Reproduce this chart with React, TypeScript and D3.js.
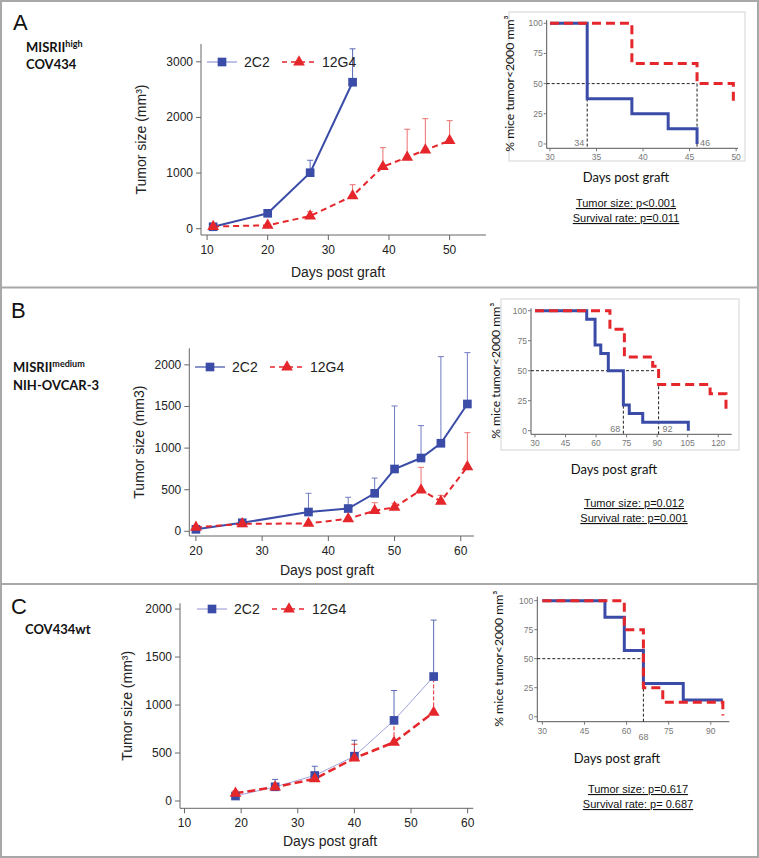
import React from "react";
import * as d3 from "d3";

// ---- tumor growth (mean, upper SD) ----
const daysA2C2 = [11, 20, 27, 34];
const sizeA2C2 = [35, 277, 1007, 2633];
const errA2C2 = [0, 25, 223, 600];
const daysA12G4 = [11, 20, 27, 34, 39, 43, 46, 50];
const sizeA12G4 = [40, 61, 228, 590, 1115, 1284, 1415, 1583];
const errA12G4 = [0, 20, 78, 201, 342, 504, 563, 359];

const daysB = [20, 27, 37, 43, 47, 50, 54, 57, 61];
const sizeB2C2 = [24, 103, 232, 274, 457, 749, 881, 1058, 1530];
const errB2C2 = [10, 33, 225, 135, 183, 757, 389, 1041, 617];
const sizeB12G4 = [48, 90, 95, 151, 248, 288, 496, 360, 776];
const errB12G4 = [0, 15, 0, 0, 96, 49, 273, 72, 409];

const daysC = [19, 26, 33, 40, 47, 54];
const sizeC2C2 = [52, 148, 266, 467, 840, 1297];
const errC2C2 = [30, 77, 96, 166, 311, 588];
const sizeC12G4 = [80, 145, 231, 446, 612, 923];
const errC12G4 = [24, 30, 62, 146, 208, 347];

// ---- survival (step start times, % mice tumor<2000) ----
const kmA2C2t = [30, 34, 38.8, 42.7, 45.8];
const kmA2C2s = [100, 37.5, 25, 12.5, 0];
const kmA12G4t = [30, 38.8, 45.8, 49.7];
const kmA12G4s = [100, 66.7, 50, 33.3];

const kmB2C2t = [30, 55.4, 59.5, 62.3, 66, 73.4, 76.3, 82.9, 105.3];
const kmB2C2s = [100, 92.9, 71.4, 64.3, 50, 21.4, 14.3, 7.1, 0];
const kmB12G4t = [30, 66.8, 73.9, 87.8, 90.7, 116, 123.8];
const kmB12G4s = [100, 84.6, 61.5, 53.8, 38.5, 30.8, 15.4];

const kmC2C2t = [30, 52.3, 59.2, 66, 80.2, 94.3];
const kmC2C2s = [100, 85.7, 57.1, 28.6, 14.3, 14.3];
const kmC12G4t = [30, 59.2, 66, 72.9, 94.3];
const kmC12G4s = [100, 75, 25, 12.5, 1];

const growthXTicksA = [10, 20, 30, 40, 50];
const growthYTicksA = [0, 1000, 2000, 3000];
const growthXTicksB = [20, 30, 40, 50, 60];
const growthYTicksB = [0, 500, 1000, 1500, 2000];
const growthXTicksC = [10, 20, 30, 40, 50, 60];
const growthYTicksC = [0, 500, 1000, 1500, 2000];
const kmYTicks = [0, 25, 50, 75, 100];
const kmXTicksA = [30, 35, 40, 45, 50];
const kmXTicksB = [30, 45, 60, 75, 90, 105, 120];
const kmXTicksC = [30, 45, 60, 75, 90];

const BLUE = "#3a4ca8";
const RED = "#e5262b";
const ARIAL = "Liberation Sans, Arial, sans-serif";
const CAL = "Lato, Open Sans, sans-serif";

type Series = { days: number[]; size: number[]; err: number[] };

function GrowthChart(p: any) {
  const x = d3.scaleLinear().domain(p.xDomain).range(p.xRange);
  const y = d3.scaleLinear().domain(p.yDomain).range(p.yRange);
  const [x0, x1] = p.xRange;
  const [yb, yt] = p.yRange;
  const line = d3.line<number>();
  const sq = d3.symbol(d3.symbolSquare, 75)()!;
  const tri = d3.symbol(d3.symbolTriangle, 60)()!;
  const seriesLine = (s: Series) =>
    line.x((_, i) => x(s.days[i])).y((_, i) => y(s.size[i]))(s.size) || "";
  const errBars = (s: Series, color: string, dash?: string) =>
    s.days.map((d, i) =>
      s.err[i] > 0 ? (
        <g key={i} stroke={color} strokeWidth={1}>
          <line x1={x(d)} x2={x(d)} y1={y(s.size[i])} y2={y(s.size[i] + s.err[i])} strokeDasharray={dash} />
          <line x1={x(d) - 3} x2={x(d) + 3} y1={y(s.size[i] + s.err[i])} y2={y(s.size[i] + s.err[i])} />
        </g>
      ) : null
    );
  return (
    <g fontFamily={ARIAL}>
      <line x1={x0} x2={x0} y1={yt} y2={yb} stroke="#666" />
      <line x1={x0} x2={x1} y1={yb} y2={yb} stroke="#666" />
      {p.yTicks.map((t: number) => (
        <g key={t}>
          <line x1={x0 - 5} x2={x0} y1={y(t)} y2={y(t)} stroke="#666" />
          <text x={x0 - 8} y={y(t) + 4} fontSize={12} textAnchor="end" fill="#222">{t}</text>
        </g>
      ))}
      {p.xTicks.map((t: number) => (
        <g key={t}>
          <line x1={x(t)} x2={x(t)} y1={yb} y2={yb + 5} stroke="#666" />
          <text x={x(t)} y={yb + 19} fontSize={12} textAnchor="middle" fill="#222">{t}</text>
        </g>
      ))}
      <text transform={`translate(${p.yLabelX},${(yb + yt) / 2}) rotate(-90)`} fontSize={14} textAnchor="middle" fill="#222">
        {p.yLabel}
      </text>
      <text x={p.xLabelX} y={p.xLabelY} fontSize={14} textAnchor="middle" fill="#222">Days post graft</text>
      {errBars(p.s1, p.errBlue)}
      {errBars(p.s2, p.errRed, p.errRedDash)}
      <path d={seriesLine(p.s1)} fill="none" stroke={p.blueLine} strokeWidth={p.blueWidth} />
      <path d={seriesLine(p.s2)} fill="none" stroke={RED} strokeWidth={p.redWidth} strokeDasharray={p.redDash} />
      {p.s1.days.map((d: number, i: number) => (
        <path key={i} d={sq} transform={`translate(${x(d)},${y(p.s1.size[i])})`} fill={BLUE} />
      ))}
      {p.s2.days.map((d: number, i: number) => (
        <path key={i} d={tri} transform={`translate(${x(d)},${y(p.s2.size[i])})`} fill={RED} />
      ))}
      {/* legend */}
      <g transform={`translate(${p.legend[0]},${p.legend[1]})`}>
        <line x1={0} x2={30} y1={0} y2={0} stroke={p.blueLegend} strokeWidth={1.2} />
        <path d={sq} transform="translate(15,0)" fill={BLUE} />
        <text x={37} y={5} fontSize={14} fill="#222">2C2</text>
        <line x1={75} x2={110} y1={0} y2={0} stroke={RED} strokeWidth={1.5} strokeDasharray="5,4" />
        <path d={tri} transform="translate(92,0)" fill={RED} />
        <text x={115} y={5} fontSize={14} fill="#222">12G4</text>
      </g>
    </g>
  );
}

function KMChart(p: any) {
  const x = d3.scaleLinear().domain(p.xDomain).range(p.xRange);
  const y = d3.scaleLinear().domain(p.yDomain).range(p.yRange);
  const [x0, x1] = p.xRange;
  const [yb, yt] = p.yRange;
  const step = (t: number[], s: number[]) =>
    d3.line<number>().curve(d3.curveStepAfter).x((_, i) => x(t[i])).y((_, i) => y(s[i]))(s) || "";
  const xm = x.domain()[0];
  return (
    <g>
      {p.box && <rect x={p.box[0]} y={p.box[1]} width={p.box[2]} height={p.box[3]} fill="none" stroke="#e2e2e2" strokeWidth={1.5} />}
      <line x1={x0} x2={x0} y1={yt} y2={yb} stroke="#555" />
      <line x1={x0} x2={x1} y1={yb} y2={yb} stroke="#555" />
      {kmYTicks.map((t) => (
        <g key={t}>
          <line x1={x0 - 3} x2={x0} y1={y(t)} y2={y(t)} stroke="#777" />
          <text x={x0 - 4} y={y(t) + 3} fontSize={8.5} textAnchor="end" fill="#777" fontFamily={ARIAL}>{t}</text>
        </g>
      ))}
      {p.xTicks.map((t: number) => (
        <g key={t}>
          <line x1={x(t)} x2={x(t)} y1={yb} y2={yb + 3} stroke="#777" />
          <text x={x(t)} y={yb + 12} fontSize={8.5} textAnchor="middle" fill="#777" fontFamily={ARIAL}>{t}</text>
        </g>
      ))}
      {/* median lines */}
      <g stroke="#222" strokeWidth={1} strokeDasharray="3,2" fill="none">
        <line x1={x(xm)} x2={x(p.medH)} y1={y(50)} y2={y(50)} />
        {p.medV.map((v: number[], i: number) => (
          <line key={i} x1={x(v[0])} x2={x(v[0])} y1={y(v[1])} y2={y(v[2])} />
        ))}
      </g>
      {p.medLabels.map((m: any, i: number) => (
        <text key={i} x={x(m[0]) + m[1]} y={m[2]} fontSize={9} textAnchor={m[3]} fill="#777" fontFamily={ARIAL}>{m[4]}</text>
      ))}
      <path d={step(p.t1, p.s1)} fill="none" stroke={BLUE} strokeWidth={3} />
      <path d={step(p.t2, p.s2)} fill="none" stroke={RED} strokeWidth={3} strokeDasharray="9,5" />
      <text transform={`translate(${p.yLabelX},${y(50)}) rotate(-90)`} fontSize={12.2} textAnchor="middle" fill="#111" fontFamily={CAL}>
        % mice tumor{"<"}2000 mm³
      </text>
      <text x={p.xLabel[0]} y={p.xLabel[1]} fontSize={13} textAnchor="middle" fill="#111" fontFamily={CAL}>Days post graft</text>
      <g fontFamily={ARIAL} fontSize={11} fill="#111" textAnchor="middle" style={{ textDecoration: "underline" }}>
        <text x={p.pX} y={p.pY}>{p.p1}</text>
        <text x={p.pX} y={p.pY + 15}>{p.p2}</text>
      </g>
    </g>
  );
}

export default function App() {
  return (
    <>
      <style>{`body{margin:0}`}</style>
      <svg width={759} height={858} style={{ display: "block", background: "#fff" }}>
        <rect x={1} y={1} width={757} height={856} fill="none" stroke="#a8a8a8" strokeWidth={2} />
        <line x1={0} x2={759} y1={287.5} y2={287.5} stroke="#a8a8a8" strokeWidth={2} />
        <line x1={0} x2={759} y1={584} y2={584} stroke="#a8a8a8" strokeWidth={2} />

        {/* Panel A */}
        <text x={13} y={30} fontSize={22} fontFamily={ARIAL} fill="#111">A</text>
        <text x={26} y={52} fontSize={13} fontWeight="bold" fontFamily={CAL} fill="#111">
          MISRII<tspan fontSize={9} dy={-5}>high</tspan>
        </text>
        <text x={26} y={69} fontSize={13} fontWeight="bold" fontFamily={CAL} fill="#111">COV434</text>
        <GrowthChart
          xDomain={[9, 56]} xRange={[201, 486]} yDomain={[-113, 3320]} yRange={[235, 44]}
          xTicks={growthXTicksA} yTicks={growthYTicksA}
          yLabel="Tumor size (mm³)" yLabelX={146} xLabelX={338} xLabelY={277}
          s1={{ days: daysA2C2, size: sizeA2C2, err: errA2C2 }}
          s2={{ days: daysA12G4, size: sizeA12G4, err: errA12G4 }}
          errBlue="#5a68b8" errRed="#ee7070"
          blueLine={BLUE} blueWidth={2} redWidth={2} redDash="6,4" blueLegend="#8f97d4"
          legend={[207, 62]}
        />
        <KMChart
          box={[509, 12, 236, 149]}
          xDomain={[29.65, 50.2]} xRange={[546.7, 738]} yDomain={[-3.6, 102.7]} yRange={[148.3, 20]}
          xTicks={kmXTicksA}
          t1={kmA2C2t} s1={kmA2C2s} t2={kmA12G4t} s2={kmA12G4s}
          medH={45.8} medV={[[34, 50, -3.6], [45.8, 50, -3.6]]}
          medLabels={[[34, -3, 146, "end", "34"], [45.8, 3, 146, "start", "46"]]}
          yLabelX={514} xLabel={[626, 182]}
          pX={626} pY={207} p1="Tumor size: p<0.001" p2="Survival rate: p=0.011"
        />

        {/* Panel B */}
        <text x={11} y={318} fontSize={22} fontFamily={ARIAL} fill="#111">B</text>
        <text x={13} y={372} fontSize={13} fontWeight="bold" fontFamily={CAL} fill="#111">
          MISRII<tspan fontSize={9} dy={-5}>medium</tspan>
        </text>
        <text x={13} y={390} fontSize={13} fontWeight="bold" fontFamily={CAL} fill="#111">NIH-OVCAR-3</text>
        <GrowthChart
          xDomain={[19, 62]} xRange={[189.3, 474]} yDomain={[-56, 2199]} yRange={[536, 348.3]}
          xTicks={growthXTicksB} yTicks={growthYTicksB}
          yLabel="Tumor size (mm3)" yLabelX={144} xLabelX={327} xLabelY={575}
          s1={{ days: daysB, size: sizeB2C2, err: errB2C2 }}
          s2={{ days: daysB, size: sizeB12G4, err: errB12G4 }}
          errBlue="#6f7bc2" errRed="#ee7070"
          blueLine={BLUE} blueWidth={2} redWidth={2} redDash="6,4" blueLegend={BLUE}
          legend={[195, 367]}
        />
        <KMChart
          box={[501, 299, 238, 151]}
          xDomain={[28.04, 126.6]} xRange={[531, 731.7]} yDomain={[-3, 102]} yRange={[434.3, 308.3]}
          xTicks={kmXTicksB}
          t1={kmB2C2t} s1={kmB2C2s} t2={kmB12G4t} s2={kmB12G4s}
          medH={89} medV={[[73.4, 50, -3], [90.7, 37, -3]]}
          medLabels={[[73.4, -3, 432, "end", "68"], [90.7, 4, 432, "start", "92"]]}
          yLabelX={500} xLabel={[614, 474]}
          pX={634} pY={507} p1="Tumor size: p=0.012" p2="Survival rate: p=0.001"
        />

        {/* Panel C */}
        <text x={11} y={614} fontSize={22} fontFamily={ARIAL} fill="#111">C</text>
        <text x={25} y={634} fontSize={13} fontWeight="bold" fontFamily={CAL} fill="#111">COV434wt</text>
        <GrowthChart
          xDomain={[9.2, 61]} xRange={[180, 473.3]} yDomain={[-76, 2060]} yRange={[808.3, 603.3]}
          xTicks={growthXTicksC} yTicks={growthYTicksC}
          yLabel="Tumor size (mm³)" yLabelX={132} xLabelX={330} xLabelY={846}
          s1={{ days: daysC, size: sizeC2C2, err: errC2C2 }}
          s2={{ days: daysC, size: sizeC12G4, err: errC12G4 }}
          errBlue="#5a68b8" errRed={RED} errRedDash="4,2"
          blueLine="#a0a4dc" blueWidth={1} redWidth={2.5} redDash="8,4" blueLegend="#a0a4dc"
          legend={[197, 609]}
        />
        <KMChart
          xDomain={[28.2, 96.6]} xRange={[537.3, 729.3]} yDomain={[-4.3, 103.4]} yRange={[721.7, 596.7]}
          xTicks={kmXTicksC}
          t1={kmC2C2t} s1={kmC2C2s} t2={kmC12G4t} s2={kmC12G4s}
          medH={66} medV={[[66, 50, -6]]}
          medLabels={[[66, 0, 740, "middle", "68"]]}
          yLabelX={503} xLabel={[617, 763]}
          pX={638} pY={793} p1="Tumor size: p=0.617" p2="Survival rate: p= 0.687"
        />
      </svg>
    </>
  );
}
